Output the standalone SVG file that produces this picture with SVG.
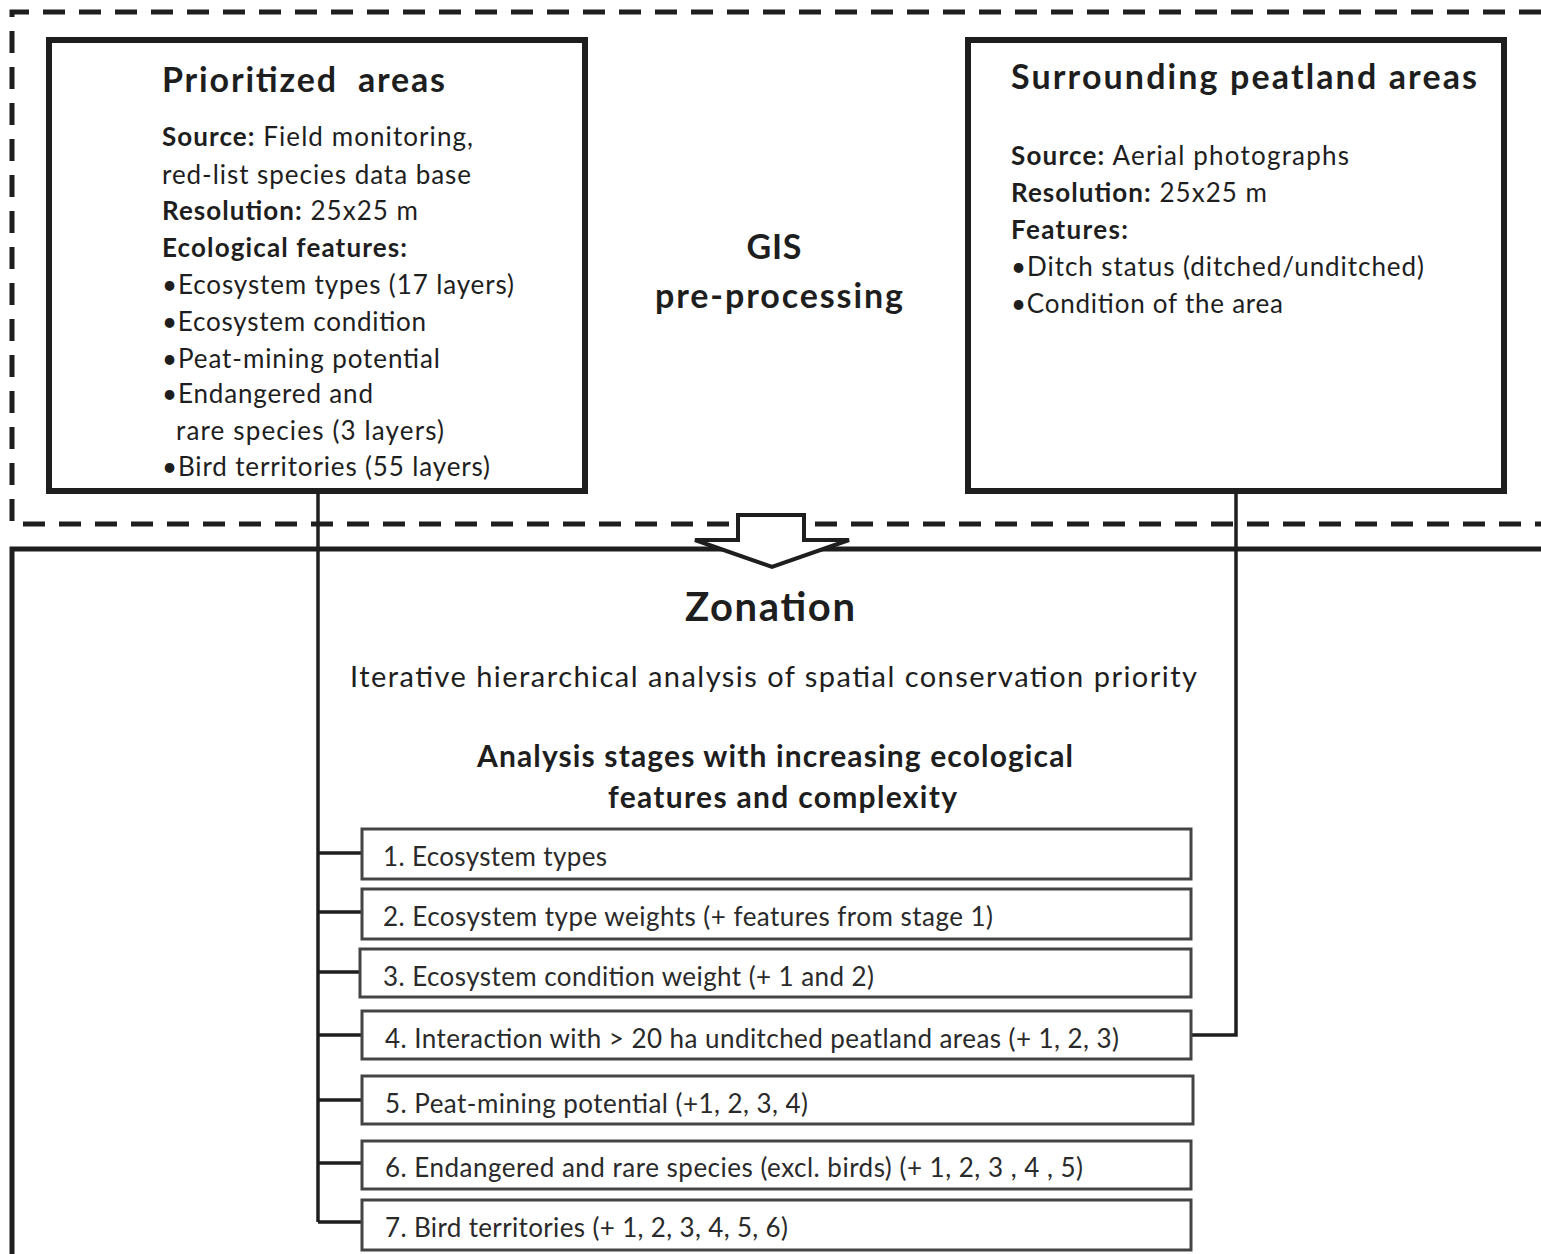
<svg xmlns="http://www.w3.org/2000/svg" width="1541" height="1254" viewBox="0 0 1541 1254">
<style>
text{font-family:Lato,"Liberation Sans",sans-serif;fill:#1e1e1e;}
.t{font-size:26px;}
.b{font-weight:bold;}
.h{font-size:34px;font-weight:bold;}
.s{font-size:26px;fill:#2a2a2a;}
.box{fill:#fff;stroke:#1e1e1e;stroke-width:6;}
.stage{fill:#fff;stroke:#444;stroke-width:3;}
.con{fill:none;stroke:#1e1e1e;stroke-width:3.5;}
.dash{fill:none;stroke:#1e1e1e;stroke-width:5;stroke-dasharray:22 14;}
.solid{fill:none;stroke:#1e1e1e;stroke-width:5;}
</style>
<rect width="1541" height="1254" fill="#fff"/>
<g id="gis-frame">
<path class="dash" d="M1541 12 H12 V524 H1541"/>
<text class="h" x="774" y="259" text-anchor="middle" textLength="55">GIS</text>
<text class="h" x="655" y="308" textLength="248">pre-processing</text>
</g>
<g id="zonation-frame">
<path class="solid" d="M1541 549 H12 V1254"/>
</g>
<g id="connectors">
<path class="con" d="M318 492 V1222"/>
<path class="con" d="M318 853 H362 M318 912 H362 M318 972 H360 M318 1035 H362 M318 1100 H362 M318 1163 H362 M318 1222 H362"/>
<path class="con" d="M1236 492 V1035 H1191"/>
</g>
<g id="arrow">
<polygon points="738,515 804,515 804,540 849,540 772,567 695,540 738,540" fill="#fff" stroke="#1e1e1e" stroke-width="4" stroke-linejoin="miter"/>
</g>
<g id="prioritized">
<rect class="box" x="49" y="40" width="536" height="451"/>
<text class="h" x="162" y="92" textLength="283" xml:space="preserve">Prioritized  areas</text>
<text class="t" x="162" y="146" textLength="311"><tspan class="b">Source:</tspan> Field monitoring,</text>
<text class="t" x="162" y="184" textLength="309">red-list species data base</text>
<text class="t" x="162" y="220" textLength="256"><tspan class="b">Resolution:</tspan> 25x25 m</text>
<text class="t b" x="162" y="257" textLength="245">Ecological features:</text>
<text class="t" x="162" y="294" textLength="352">•Ecosystem types (17 layers)</text>
<text class="t" x="162" y="331" textLength="264">•Ecosystem condition</text>
<text class="t" x="162" y="368" textLength="278">•Peat-mining potential</text>
<text class="t" x="162" y="403" textLength="211">•Endangered and</text>
<text class="t" x="176" y="440" textLength="268">rare species (3 layers)</text>
<text class="t" x="162" y="476" textLength="328">•Bird territories (55 layers)</text>
</g>
<g id="surrounding">
<rect class="box" x="968" y="40" width="536" height="451"/>
<text class="h" x="1011" y="89" textLength="466">Surrounding peatland areas</text>
<text class="t" x="1011" y="165" textLength="338"><tspan class="b">Source:</tspan> Aerial photographs</text>
<text class="t" x="1011" y="202" textLength="256"><tspan class="b">Resolution:</tspan> 25x25 m</text>
<text class="t b" x="1011" y="239" textLength="117">Features:</text>
<text class="t" x="1011" y="276" textLength="413">•Ditch status (ditched/unditched)</text>
<text class="t" x="1011" y="313" textLength="272">•Condition of the area</text>
</g>
<g id="zonation">
<text x="770" y="621" text-anchor="middle" font-size="40" font-weight="bold" textLength="170">Zonation</text>
<text x="350" y="687" font-size="29" textLength="847">Iterative hierarchical analysis of spatial conservation priority</text>
<text x="477" y="767" font-size="30" font-weight="bold" textLength="596">Analysis stages with increasing ecological</text>
<text x="608" y="808" font-size="30" font-weight="bold" textLength="349">features and complexity</text>
</g>
<g id="stage1"><rect class="stage" x="362" y="829" width="829" height="50"/><text class="s" x="383" y="866" textLength="224">1. Ecosystem types</text></g>
<g id="stage2"><rect class="stage" x="362" y="889" width="829" height="50"/><text class="s" x="383" y="926" textLength="610">2. Ecosystem type weights (+ features from stage 1)</text></g>
<g id="stage3"><rect class="stage" x="360" y="949" width="831" height="48"/><text class="s" x="383" y="986" textLength="491">3. Ecosystem condition weight (+ 1 and 2)</text></g>
<g id="stage4"><rect class="stage" x="362" y="1011" width="829" height="48"/><text class="s" x="385" y="1048" textLength="734">4. Interaction with &gt; 20 ha unditched peatland areas (+ 1, 2, 3)</text></g>
<g id="stage5"><rect class="stage" x="362" y="1076" width="831" height="48"/><text class="s" x="385" y="1113" textLength="423">5. Peat-mining potential (+1, 2, 3, 4)</text></g>
<g id="stage6"><rect class="stage" x="362" y="1141" width="829" height="48"/><text class="s" x="385" y="1177" textLength="698">6. Endangered and rare species (excl. birds) (+ 1, 2, 3 , 4 , 5)</text></g>
<g id="stage7"><rect class="stage" x="362" y="1200" width="829" height="50"/><text class="s" x="385" y="1237" textLength="403">7. Bird territories (+ 1, 2, 3, 4, 5, 6)</text></g>
</svg>
